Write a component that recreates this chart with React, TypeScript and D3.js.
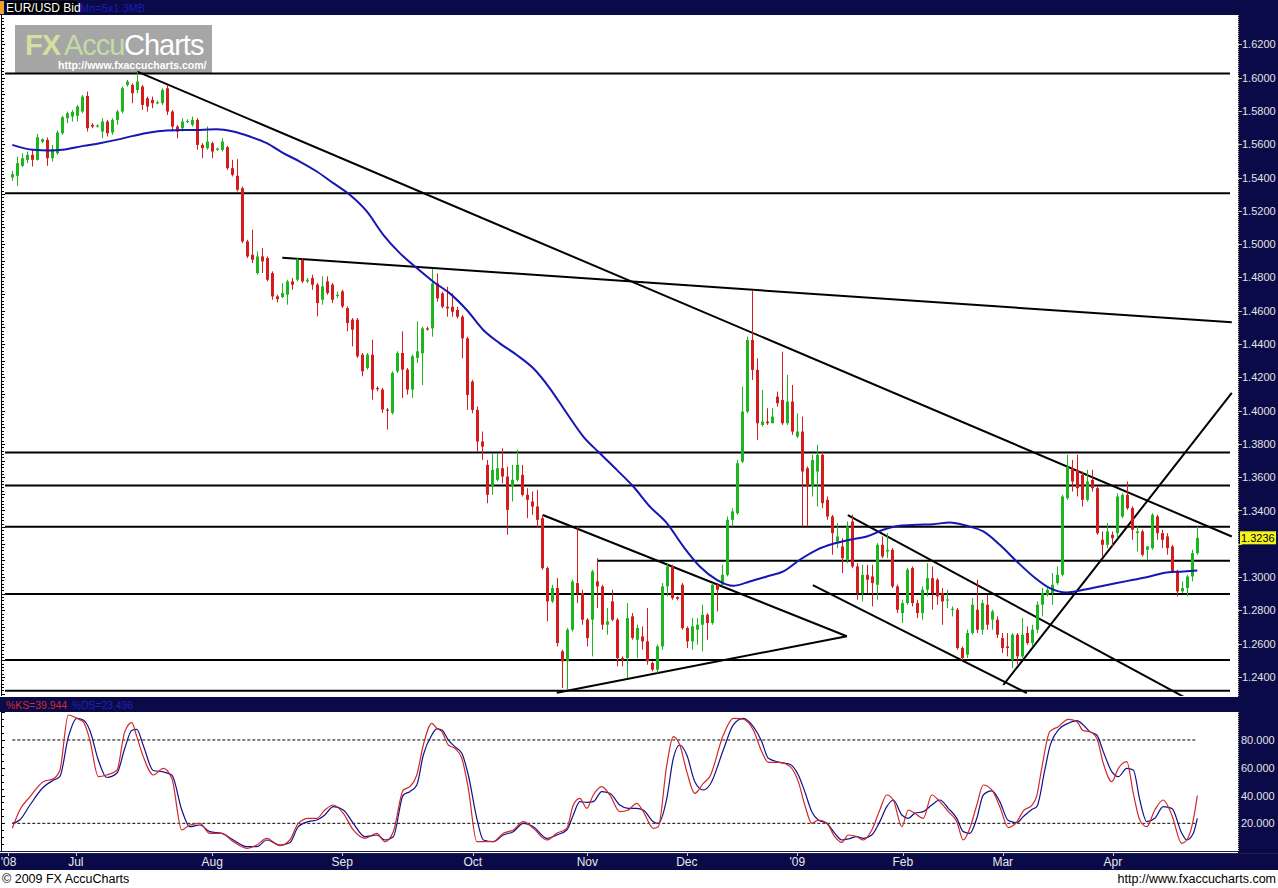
import React from 'react';
import * as d3 from 'd3';

const W = 1278;
const H = 888;
const NAVY = '#0a0a48';

const opens = [
  1.5400,1.5410,1.5470,1.5506,1.5536,1.5506,1.5614,1.5626,1.5516,1.5546,
  1.5666,1.5756,1.5766,1.5770,1.5796,1.5890,1.5716,1.5710,1.5676,1.5736,
  1.5670,1.5746,1.5796,1.5956,1.5956,1.5926,1.5946,1.5876,1.5866,1.5850,
  1.5846,1.5936,1.5796,1.5706,1.5696,1.5736,1.5716,1.5746,1.5596,1.5576,
  1.5606,1.5566,1.5566,1.5582,1.5456,1.5410,1.5336,1.5016,1.4936,1.4826,
  1.4926,1.4916,1.4826,1.4686,1.4682,1.4696,1.4776,1.4786,1.4906,1.4776,
  1.4796,1.4756,1.4666,1.4776,1.4756,1.4690,1.4716,1.4616,1.4546,1.4546,
  1.4336,1.4256,1.4336,1.4136,1.4126,1.4006,1.3986,1.4236,1.4346,1.4246,
  1.4126,1.4316,1.4344,1.4494,1.4494,1.4764,1.4704,1.4624,1.4624,1.4604,
  1.4564,1.4434,1.4174,1.4004,1.3814,1.3674,1.3544,1.3584,1.3654,1.3604,
  1.3544,1.3584,1.3614,1.3494,1.3454,1.3424,1.3354,1.3054,1.2854,1.2934,
  1.2554,1.2494,1.2684,1.2964,1.2904,1.2744,1.2744,1.2974,1.2944,1.2714,
  1.2854,1.2744,1.2514,1.2514,1.2764,1.2624,1.2644,1.2614,1.2484,1.2444,
  1.2584,1.2944,1.3064,1.2880,1.2954,1.2694,1.2614,1.2684,1.2714,1.2774,
  1.2724,1.2954,1.2954,1.3014,1.3344,1.3384,1.3694,1.3994,1.4424,1.4244,
  1.3914,1.3934,1.3924,1.4084,1.4064,1.3924,1.4054,1.3844,1.3874,1.3654,
  1.3544,1.3634,1.3734,1.3464,1.3364,1.3214,1.3184,1.3104,1.3334,1.3064,
  1.2904,1.3014,1.3004,1.2954,1.3194,1.3154,1.3164,1.2944,1.2784,1.2844,
  1.3054,1.2844,1.2784,1.2924,1.2994,1.2984,1.2904,1.2864,1.2804,1.2804,
  1.2574,1.2534,1.2664,1.2804,1.2684,1.2834,1.2744,1.2744,1.2634,1.2584,
  1.2504,1.2654,1.2524,1.2664,1.2604,1.2684,1.2834,1.2894,1.2904,1.2964,
  1.3014,1.3474,1.3654,1.3644,1.3614,1.3464,1.3584,1.3534,1.3224,1.3194,
  1.3254,1.3264,1.3364,1.3494,1.3414,1.3264,1.3274,1.3164,1.3174,1.3364,
  1.3264,1.3244,1.3184,1.3034,1.2914,1.2934,1.3004,1.3144,
];

const highs = [
  1.5440,1.5526,1.5546,1.5556,1.5566,1.5662,1.5634,1.5640,1.5596,1.5682,
  1.5770,1.5796,1.5806,1.5836,1.5896,1.5916,1.5726,1.5720,1.5756,1.5746,
  1.5756,1.5806,1.5946,1.5986,1.5966,1.6036,1.5956,1.5886,1.5886,1.5862,
  1.5936,1.5956,1.5806,1.5716,1.5756,1.5750,1.5766,1.5756,1.5606,1.5706,
  1.5616,1.5580,1.5636,1.5590,1.5506,1.5510,1.5346,1.5026,1.5086,1.4956,
  1.4976,1.4926,1.4836,1.4696,1.4766,1.4786,1.4796,1.4916,1.4916,1.4796,
  1.4816,1.4766,1.4806,1.4806,1.4766,1.4716,1.4726,1.4626,1.4556,1.4556,
  1.4346,1.4346,1.4426,1.4146,1.4136,1.4016,1.4236,1.4356,1.4476,1.4256,
  1.4336,1.4536,1.4504,1.4504,1.4850,1.4824,1.4714,1.4744,1.4704,1.4624,
  1.4574,1.4444,1.4184,1.4024,1.3874,1.3704,1.3744,1.3744,1.3774,1.3664,
  1.3674,1.3764,1.3674,1.3534,1.3514,1.3524,1.3374,1.3064,1.2954,1.2994,
  1.2564,1.2694,1.2984,1.3304,1.2924,1.2754,1.3044,1.3114,1.2954,1.2814,
  1.2924,1.2754,1.2524,1.2844,1.2784,1.2714,1.2704,1.2814,1.2494,1.2594,
  1.2964,1.3084,1.3074,1.2884,1.2964,1.2704,1.2754,1.2754,1.2834,1.2784,
  1.2964,1.2964,1.3074,1.3364,1.3414,1.3704,1.4144,1.4444,1.4724,1.4314,
  1.4124,1.4014,1.4014,1.4114,1.4354,1.4214,1.4154,1.3984,1.3964,1.3664,
  1.3734,1.3794,1.3754,1.3484,1.3374,1.3324,1.3234,1.3334,1.3374,1.3084,
  1.3074,1.3074,1.3074,1.3204,1.3244,1.3264,1.3174,1.2954,1.2864,1.3054,
  1.3064,1.2864,1.2944,1.3084,1.3064,1.2994,1.2934,1.2924,1.2824,1.2814,
  1.2584,1.2684,1.2874,1.2984,1.2864,1.2894,1.2804,1.2764,1.2664,1.2664,
  1.2664,1.2664,1.2754,1.2704,1.2714,1.2854,1.2934,1.2934,1.3024,1.3064,
  1.3494,1.3734,1.3704,1.3734,1.3634,1.3644,1.3644,1.3544,1.3274,1.3324,
  1.3274,1.3504,1.3504,1.3574,1.3424,1.3304,1.3284,1.3184,1.3384,1.3374,
  1.3284,1.3264,1.3194,1.3044,1.2974,1.3014,1.3164,1.3304,
];

const lows = [
  1.5380,1.5350,1.5462,1.5486,1.5466,1.5502,1.5606,1.5470,1.5496,1.5536,
  1.5656,1.5726,1.5736,1.5736,1.5786,1.5676,1.5696,1.5700,1.5636,1.5646,
  1.5656,1.5716,1.5786,1.5946,1.5846,1.5906,1.5806,1.5796,1.5816,1.5840,
  1.5836,1.5776,1.5676,1.5636,1.5676,1.5726,1.5706,1.5566,1.5516,1.5566,
  1.5516,1.5560,1.5556,1.5446,1.5406,1.5316,1.5006,1.4916,1.4886,1.4816,
  1.4826,1.4776,1.4666,1.4650,1.4676,1.4636,1.4726,1.4776,1.4766,1.4766,
  1.4726,1.4566,1.4636,1.4696,1.4646,1.4676,1.4616,1.4476,1.4386,1.4316,
  1.4206,1.4246,1.4066,1.4116,1.3986,1.3886,1.3976,1.4226,1.4076,1.4096,
  1.4076,1.4286,1.4154,1.4480,1.4444,1.4654,1.4614,1.4564,1.4564,1.4554,
  1.4314,1.4004,1.3984,1.3754,1.3704,1.3444,1.3494,1.3574,1.3564,1.3254,
  1.3454,1.3574,1.3484,1.3354,1.3374,1.3294,1.3044,1.2734,1.2844,1.2584,
  1.2334,1.2324,1.2674,1.2844,1.2714,1.2584,1.2524,1.2814,1.2684,1.2654,
  1.2734,1.2464,1.2464,1.2394,1.2624,1.2514,1.2564,1.2474,1.2434,1.2424,
  1.2564,1.2884,1.2864,1.2860,1.2684,1.2574,1.2564,1.2594,1.2554,1.2624,
  1.2714,1.2794,1.2944,1.3004,1.3304,1.3374,1.3684,1.3984,1.4184,1.3824,
  1.3904,1.3914,1.3924,1.4024,1.3914,1.3914,1.3854,1.3834,1.3304,1.3304,
  1.3484,1.3424,1.3414,1.3344,1.3134,1.3174,1.3024,1.3084,1.3054,1.2864,
  1.2854,1.2904,1.2824,1.2864,1.3114,1.3114,1.2934,1.2784,1.2724,1.2834,
  1.2824,1.2754,1.2744,1.2884,1.2804,1.2834,1.2714,1.2814,1.2764,1.2564,
  1.2504,1.2514,1.2654,1.2664,1.2654,1.2684,1.2684,1.2634,1.2544,1.2524,
  1.2454,1.2474,1.2514,1.2594,1.2584,1.2664,1.2764,1.2884,1.2834,1.2954,
  1.3004,1.3464,1.3514,1.3484,1.3424,1.3454,1.3514,1.3254,1.3124,1.3174,
  1.3184,1.3234,1.3354,1.3404,1.3224,1.3154,1.3124,1.3104,1.3164,1.3224,
  1.3174,1.3134,1.3024,1.2884,1.2904,1.2884,1.2974,1.3134,
];

const closes = [
  1.5420,1.5486,1.5516,1.5536,1.5506,1.5642,1.5630,1.5516,1.5570,1.5670,
  1.5762,1.5786,1.5794,1.5826,1.5886,1.5696,1.5706,1.5712,1.5736,1.5666,
  1.5746,1.5796,1.5936,1.5976,1.5906,1.5976,1.5836,1.5826,1.5846,1.5852,
  1.5926,1.5796,1.5706,1.5676,1.5736,1.5740,1.5746,1.5596,1.5576,1.5616,
  1.5556,1.5574,1.5616,1.5456,1.5416,1.5326,1.5016,1.4926,1.4906,1.4926,
  1.4896,1.4786,1.4686,1.4670,1.4706,1.4776,1.4756,1.4906,1.4776,1.4786,
  1.4756,1.4646,1.4746,1.4706,1.4666,1.4696,1.4626,1.4526,1.4486,1.4326,
  1.4236,1.4336,1.4126,1.4130,1.4006,1.4000,1.4226,1.4346,1.4246,1.4126,
  1.4326,1.4356,1.4494,1.4488,1.4764,1.4674,1.4624,1.4614,1.4594,1.4564,
  1.4434,1.4094,1.4004,1.3814,1.3784,1.3494,1.3644,1.3654,1.3604,1.3404,
  1.3584,1.3674,1.3494,1.3464,1.3424,1.3344,1.3054,1.2854,1.2934,1.2604,
  1.2494,1.2684,1.2974,1.2904,1.2744,1.2634,1.3034,1.2944,1.2714,1.2734,
  1.2744,1.2514,1.2504,1.2754,1.2634,1.2694,1.2614,1.2494,1.2444,1.2584,
  1.2944,1.3064,1.2874,1.2870,1.2694,1.2614,1.2704,1.2714,1.2774,1.2724,
  1.2954,1.2924,1.3014,1.3344,1.3394,1.3684,1.3994,1.4424,1.4244,1.3924,
  1.3934,1.3924,1.3964,1.4044,1.3924,1.4054,1.3874,1.3874,1.3634,1.3544,
  1.3704,1.3734,1.3444,1.3364,1.3264,1.3244,1.3114,1.3304,1.3064,1.2904,
  1.3014,1.2984,1.2964,1.3194,1.3124,1.3164,1.2944,1.2804,1.2844,1.3044,
  1.2844,1.2784,1.2924,1.2994,1.2904,1.2884,1.2854,1.2866,1.2810,1.2574,
  1.2514,1.2664,1.2834,1.2684,1.2844,1.2714,1.2794,1.2654,1.2574,1.2574,
  1.2654,1.2524,1.2654,1.2604,1.2684,1.2834,1.2904,1.2924,1.2954,1.3014,
  1.3484,1.3664,1.3574,1.3534,1.3464,1.3574,1.3534,1.3264,1.3194,1.3274,
  1.3234,1.3484,1.3494,1.3414,1.3284,1.3274,1.3134,1.3184,1.3374,1.3264,
  1.3224,1.3174,1.3034,1.2914,1.2934,1.3004,1.3144,1.3236,
];

// moving average: [bar index, price]
const movingAvg: [number, number][] = [
  [0,1.5596],[4.2,1.5566],[7.5,1.5562],[10,1.5566],[14.2,1.5590],[17.5,1.5606],
  [20.8,1.5626],[24.2,1.5650],[27.5,1.5670],[30.9,1.5682],[34.2,1.5686],[37.5,1.5686],
  [40.9,1.5690],[44.2,1.5676],[47.5,1.5646],[50.9,1.5606],[54.2,1.5546],[57.5,1.5496],
  [60.9,1.5436],[64.2,1.5366],[67.5,1.5296],[70.9,1.5196],[74.2,1.5056],[77.5,1.4946],
  [80.9,1.4856],[84.2,1.4774],[87.5,1.4704],[90.9,1.4604],[94.2,1.4484],[97.5,1.4404],
  [100.9,1.4334],[104.2,1.4254],[107.5,1.4134],[110.9,1.3984],[114.2,1.3844],[117.5,1.3744],
  [120.9,1.3644],[124.2,1.3544],[127.5,1.3424],[130.9,1.3324],[134.2,1.3184],[137.5,1.3064],
  [140.9,1.2984],[144.2,1.2948],[147.5,1.2974],[150.9,1.3004],[154.2,1.3034],[157.5,1.3104],
  [160.9,1.3164],[164.2,1.3200],[167.5,1.3224],[170.9,1.3244],[174.2,1.3284],[177.5,1.3308],
  [180.9,1.3314],[184.2,1.3318],[187.5,1.3328],[190.9,1.3308],[194.2,1.3274],[197.5,1.3194],
  [200.9,1.3094],[204.2,1.3004],[207.5,1.2934],[210.9,1.2908],[214.2,1.2924],[217.5,1.2944],
  [220.9,1.2964],[224.2,1.2984],[227.5,1.3004],[230.9,1.3028],[234.2,1.3034],[237,1.3040],
];

const pctK: [number, number][] = [
  [0,16.4],[1.5,29.6],[3.5,39],[6.2,50],[8.2,52],[9.5,58],[11.2,98],[12.9,95.6],[14.2,93],
  [15.5,80],[17.2,53.6],[18.9,54.8],[20.9,58],[22.5,86],[23.9,92.5],[24.9,82.4],[26.2,68],
  [28.2,54.8],[30.2,59.6],[31.9,52.4],[33.9,15.2],[35.5,18.8],[37.5,20],[39.5,12.8],[41.9,12.8],
  [44.2,6.8],[46.9,2],[48.9,4.4],[50.9,9.2],[53.5,3.9],[55.5,8],[57.2,20],[59.2,23.6],[60.9,23.6],
  [62.5,29.6],[64.2,33.2],[66.2,27.2],[68.2,15.2],[70.5,9.2],[72.9,12.8],[74.5,6.8],[76.2,14],
  [78.2,44],[79.5,46.4],[80.9,54.8],[82.2,76.4],[83.9,92],[84.9,88.4],[85.9,86],[87.2,76.4],
  [88.5,74],[89.9,66.8],[91.2,45.2],[92.9,6.8],[94.2,6.8],[96.2,6.8],[98.2,12.8],[100.2,15.2],
  [102.2,21.2],[104.2,16.4],[106.9,8],[108.9,12.8],[110.9,16.4],[112.2,33.2],[113.5,38],
  [114.9,30.8],[116.2,40.4],[117.9,46.4],[119.5,40.4],[121.5,28.4],[123.2,29.6],[124.9,34.4],
  [126.2,28.4],[128.2,16.4],[129.2,17.6],[130.9,62],[132.2,82.4],[133.5,76.4],[134.9,57.2],
  [136.5,41.6],[138.2,48.8],[139.5,53.6],[142.2,83.6],[144.2,95.6],[146.2,95],[148.2,87.2],
  [149.9,71.6],[151.2,63.9],[153.5,63.9],[155.5,61],[157.2,50],[158.5,33.2],[159.9,20],
  [161.2,22.4],[162.9,20],[164.5,10.4],[165.9,6.3],[167.2,11.6],[168.9,10.4],[170.2,8],
  [171.9,15.2],[173.5,29.6],[174.9,40.4],[176.2,36.8],[177.9,17.6],[179.2,29.6],[180.5,27.2],
  [182.2,23.6],[183.9,40.4],[185.5,35.6],[187.2,28.4],[188.9,21.2],[190.2,8],[191.5,16.4],
  [192.9,33.2],[194.2,47.6],[195.9,44],[197.5,32],[199.2,17],[200.9,21],[202.2,29],[203.9,33],
  [204.9,40],[205.9,60],[207.5,86],[209.2,89.6],[211.2,94.9],[212.9,93.2],[214.2,86.7],
  [215.5,86],[216.9,81.2],[218.2,63.2],[219.9,50],[221.2,59.6],[222.9,64.4],[224.2,41.6],
  [225.5,22.4],[226.9,17.6],[228.5,29.6],[230.2,36.8],[231.9,26],[233.9,5.6],[234.9,8],
  [236.2,22.4],[237,39.9],
];

const pctD: [number, number][] = [
  [0,20],[1.5,22.4],[3.5,33],[6.2,46],[8.2,51],[9.5,53.6],[11.2,82],[12.9,95.6],[14.2,94.4],
  [15.5,87],[17.2,65.6],[18.9,53],[20.9,56],[22.5,74],[23.9,87],[24.9,87.7],[26.2,76],[28.2,58],
  [30.2,57],[31.9,54.8],[33.9,29.6],[35.5,17.6],[37.5,18.8],[39.5,14],[41.9,12.8],[44.2,8],
  [46.9,3.2],[48.9,3.2],[50.9,8],[53.5,4.4],[55.5,6],[57.2,17.6],[59.2,21.2],[60.9,22.4],
  [62.5,26],[64.2,32],[66.2,29.6],[68.2,20],[70.5,10.4],[72.9,11.6],[74.5,8],[76.2,10.4],
  [78.2,40.4],[79.5,42.8],[80.9,47.6],[82.2,69.2],[83.9,83.6],[84.9,88],[85.9,87.2],[87.2,80],
  [88.5,75.2],[89.9,70.4],[91.2,54.8],[92.9,23.6],[94.2,8],[96.2,6.8],[98.2,11.6],[100.2,14],
  [102.2,20],[104.2,17.6],[106.9,9.2],[108.9,11.6],[110.9,15.2],[112.2,26],[113.5,35.6],
  [114.9,35.1],[116.2,35.6],[117.9,42.8],[119.5,41.6],[121.5,33.2],[123.2,30.8],[124.9,30.8],
  [126.2,29.6],[128.2,21.2],[129.2,20],[130.9,38],[132.2,66.8],[133.5,76.4],[134.9,69.2],
  [136.5,50],[138.2,44],[139.5,47.6],[142.2,72.8],[144.2,90.8],[146.2,95.6],[148.2,89.6],
  [149.9,78.8],[151.2,66.8],[153.5,63.9],[155.5,62.5],[157.2,54.8],[158.5,42.8],[159.9,28.4],
  [161.2,22.4],[162.9,20],[164.5,12.8],[165.9,8],[167.2,8.7],[168.9,10.4],[170.2,9.2],
  [171.9,11.6],[173.5,21.2],[174.9,32],[176.2,36.8],[177.9,26],[179.2,23.6],[180.5,27.2],
  [182.2,28.4],[183.9,33.2],[185.5,36.8],[187.2,30.8],[188.9,23.6],[190.2,14],[191.5,12.8],
  [192.9,23.6],[194.2,40.4],[195.9,43.3],[197.5,35.6],[199.2,22],[200.9,20.4],[202.2,24.8],
  [203.9,30],[204.9,32],[206.5,58.4],[207.5,75.2],[209.2,87.2],[211.2,92],[212.9,93.9],
  [214.2,90.8],[215.5,86],[216.9,83.6],[218.2,71.6],[219.9,57.2],[221.2,53.6],[222.9,59.6],
  [224.2,58.4],[225.5,36.8],[226.9,21.2],[228.5,23.6],[230.2,32],[231.9,30.8],[233.9,12.8],
  [234.9,8],[236.2,12.8],[237,23.5],
];

const priceTicks = [1.24,1.26,1.28,1.30,1.32,1.34,1.36,1.38,1.40,1.42,1.44,1.46,1.48,1.50,1.52,1.54,1.56,1.58,1.60,1.62];
const stochTicks = [20, 40, 60, 80];
const stochBands = [20, 80];
const monthLabels = ["'08", 'Jul', 'Aug', 'Sep', 'Oct', 'Nov', 'Dec', "'09", 'Feb', 'Mar', 'Apr'];
const monthBars = [-0.85, 12.7, 40, 66, 92.1, 115, 134.9, 157, 178.1, 198.1, 220.1];

const levels = [1.6025, 1.5305, 1.3748, 1.3550, 1.3303, 1.2898, 1.2502, 1.2318];
const partialLevel: [number, number] = [117, 1.3098];
const trendLines: [[number, number], [number, number]][] = [
  [[25, 1.6036], [243.9, 1.3244]],
  [[54, 1.4918], [243.9, 1.4530]],
  [[106.1, 1.3373], [166.9, 1.2645]],
  [[108.9, 1.2306], [166.9, 1.2645]],
  [[167.1, 1.3372], [234.7, 1.2274]],
  [[160.1, 1.2952], [202.9, 1.2304]],
  [[198.2, 1.2352], [243.9, 1.4106]],
];

const lastPrice = 1.3236;
const symbolText = 'EUR/USD Bid';
const kText = '%KS=39.944';
const dText = '%DS=23.496';

const FONT = 'Liberation Sans, Arial, sans-serif';

export default function App() {
  const x = d3.scaleLinear().domain([0, 237]).range([12.3, 1197.3]);
  const y = d3.scaleLinear().domain([1.24, 1.62]).range([677.0, 44.3]);
  const ys = d3.scaleLinear().domain([0, 100]).range([851.1, 712.2]);

  const maLine = d3.line<[number, number]>().x(d => x(d[0])).y(d => y(d[1])).curve(d3.curveMonotoneX);
  const stLine = d3.line<[number, number]>().x(d => x(d[0])).y(d => ys(d[1])).curve(d3.curveMonotoneX);

  const minorPrice = d3.range(1.23, 1.64, 0.002);
  const minorStoch = d3.range(0, 101, 5);

  const up = '#1db51d';
  const down = '#d41c1c';
  const lastY = y(lastPrice);

  return (
    <svg width={W} height={H} style={{ position: 'absolute', left: 0, top: 0, display: 'block' }} fontFamily={FONT}>
      <defs>
        <clipPath id="mainClip"><rect x={5} y={15} width={1232} height={681} /></clipPath>
        <clipPath id="stochClip"><rect x={5} y={712} width={1232} height={139} /></clipPath>
      </defs>
      <rect x={0} y={0} width={W} height={H} fill="#ffffff" />

      {/* title bar */}
      <rect x={0} y={0} width={W} height={15} fill={NAVY} />
      <rect x={0} y={1} width={4} height={13} fill="#f0a030" />
      <rect x={5} y={1} width={72} height={13} fill="#000000" />
      <text x={6} y={12} fontSize={12} fill="#ffffff">{symbolText}</text>
      <text x={80} y={12} fontSize={11} fill="#1c1cb0">Mn=5x1.3MB</text>

      {/* main plot left ticks */}
      <line x1={1.5} x2={1.5} y1={15} y2={696} stroke="#000" strokeWidth={1} />
      {minorPrice.map((p, i) => {
        const yy = Math.round(y(p)) + 0.5;
        if (yy < 16 || yy > 695) return null;
        const major = Math.abs(Math.round(p * 100) - p * 100) < 0.05;
        return <line key={'lt' + i} x1={1} x2={major ? 5 : 4} y1={yy} y2={yy} stroke="#000" strokeWidth={1} />;
      })}

      {/* watermark */}
      <rect x={15} y={25} width={197} height={49} fill="#a6a6a6" />
      <text x={25} y={55} fontSize={29} fontWeight="bold" fill="#d6dea0" letterSpacing={-1}>FX</text>
      <text x={64} y={55} fontSize={29} fill="#c4dca4" letterSpacing={-1}>Accu</text>
      <text x={124} y={55} fontSize={29} fill="#ffffff" letterSpacing={-1}>Charts</text>
      <text x={58} y={69} fontSize={10.5} fill="#ffffff" fontWeight="bold">http://www.fxaccucharts.com/</text>

      <g clipPath="url(#mainClip)">
        {levels.map((p, i) => (
          <line key={'lv' + i} x1={5} x2={1230} y1={y(p)} y2={y(p)} stroke="#000" strokeWidth={2} />
        ))}
        <line x1={x(partialLevel[0])} x2={1230} y1={y(partialLevel[1])} y2={y(partialLevel[1])} stroke="#000" strokeWidth={2} />
        {trendLines.map((t, i) => (
          <line key={'tl' + i} x1={x(t[0][0])} y1={y(t[0][1])} x2={x(t[1][0])} y2={y(t[1][1])} stroke="#000" strokeWidth={2} />
        ))}

        {closes.map((c, i) => {
          const o = opens[i];
          const col = c >= o ? up : down;
          const cx = Math.round(x(i));
          const top = y(Math.max(o, c));
          const bot = y(Math.min(o, c));
          return (
            <g key={'c' + i}>
              <line x1={cx + 0.5} x2={cx + 0.5} y1={y(highs[i])} y2={y(lows[i])} stroke={col} strokeWidth={1} />
              <rect x={cx - 1} y={top} width={3} height={Math.max(1.2, bot - top)} fill={col} />
            </g>
          );
        })}

        <path d={maLine(movingAvg) || ''} fill="none" stroke="#1616b4" strokeWidth={2} />
      </g>

      {/* right price axis */}
      <rect x={1238} y={15} width={40} height={682} fill={NAVY} />
      <line x1={1238.5} x2={1238.5} y1={15} y2={697} stroke="#d8c878" strokeWidth={1} strokeDasharray="1,1" />
      {priceTicks.map((p, i) => {
        const yy = y(p);
        const hidden = Math.abs(yy - lastY) < 12;
        return (
          <g key={'pt' + i}>
            <line x1={1238} x2={1242} y1={Math.round(yy) + 0.5} y2={Math.round(yy) + 0.5} stroke="#d8c878" />
            {hidden ? null : <text x={1242} y={yy + 4} fontSize={11} fill="#e4e4e4">{p.toFixed(4)}</text>}
          </g>
        );
      })}
      <rect x={1240} y={lastY - 6.5} width={36} height={13} fill="#f4f41c" />
      <text x={1241} y={lastY + 4} fontSize={11} fill="#000">{lastPrice.toFixed(4)}</text>

      {/* stoch header */}
      <rect x={0} y={697} width={W} height={15} fill={NAVY} />
      <text x={6} y={709} fontSize={11} fill="#d02c2c" textLength={61} lengthAdjust="spacingAndGlyphs">{kText}</text>
      <text x={72} y={709} fontSize={11} fill="#2020b8" textLength={61} lengthAdjust="spacingAndGlyphs">{dText}</text>

      {/* stoch panel */}
      <line x1={1.5} x2={1.5} y1={712} y2={851} stroke="#000" strokeWidth={1} />
      {minorStoch.map((v, i) => (
        <line key={'st' + i} x1={1} x2={v % 20 === 0 ? 5 : 4} y1={Math.round(ys(v)) + 0.5} y2={Math.round(ys(v)) + 0.5} stroke="#000" />
      ))}
      {stochBands.map((v, i) => (
        <line key={'sb' + i} x1={x(0)} x2={x(237)} y1={ys(v)} y2={ys(v)} stroke="#000" strokeWidth={1} strokeDasharray="3,2" />
      ))}
      <g clipPath="url(#stochClip)">
        <path d={stLine(pctD) || ''} fill="none" stroke="#10108c" strokeWidth={1.2} />
        <path d={stLine(pctK) || ''} fill="none" stroke="#d02828" strokeWidth={1.2} />
      </g>
      <rect x={1238} y={712} width={40} height={141} fill={NAVY} />
      <line x1={1238.5} x2={1238.5} y1={712} y2={852} stroke="#d8c878" strokeWidth={1} strokeDasharray="1,1" />
      {stochTicks.map((v, i) => (
        <text key={'sl' + i} x={1241} y={ys(v) + 4} fontSize={11} fill="#e4e4e4">{v.toFixed(3)}</text>
      ))}

      {/* date bar */}
      <line x1={0} x2={1238} y1={851.5} y2={851.5} stroke="#202050" strokeWidth={1} />
      <line x1={0} x2={W} y1={853.5} y2={853.5} stroke="#202050" strokeWidth={1} />
      <rect x={0} y={854} width={W} height={16} fill={NAVY} />
      {monthLabels.map((m, i) => (
        <g key={'m' + i}>
          <line x1={Math.round(x(monthBars[i])) + 0.5} x2={Math.round(x(monthBars[i])) + 0.5} y1={852} y2={856} stroke="#c8c8c8" />
          <text x={Math.max(8.5, x(monthBars[i]))} y={866} fontSize={12} fill="#e8e8e8" textAnchor="middle">{m}</text>
        </g>
      ))}

      {/* footer */}
      <text x={2} y={883} fontSize={12.5} fill="#000">© 2009 FX AccuCharts</text>
      <text x={1276} y={883} fontSize={12.5} fill="#000" textAnchor="end">http://www.fxaccucharts.com</text>
    </svg>
  );
}
